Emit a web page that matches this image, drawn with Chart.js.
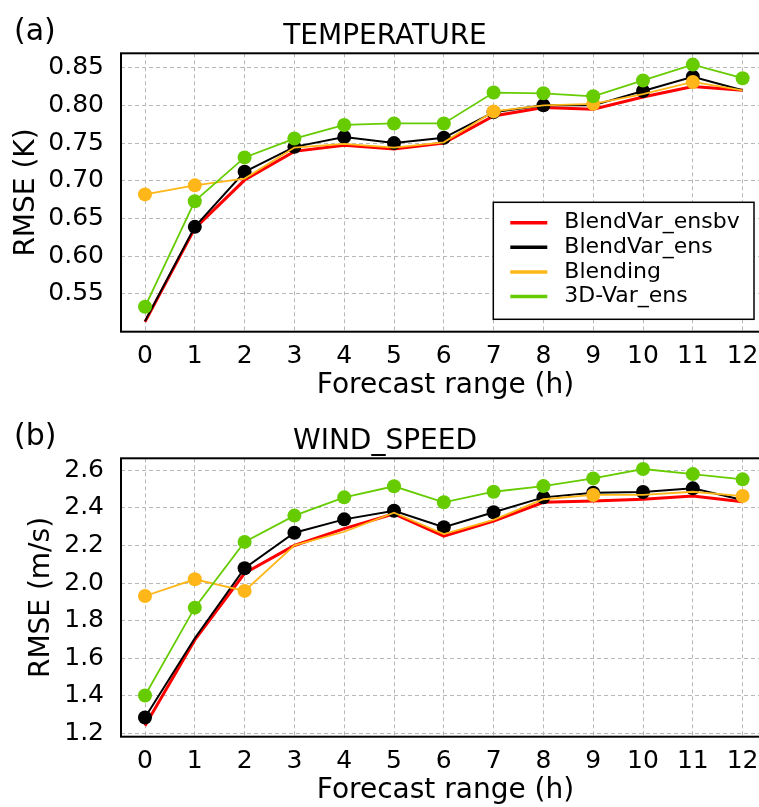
<!DOCTYPE html>
<html>
<head>
<meta charset="utf-8">
<script src="https://cdn.jsdelivr.net/npm/chart.js@4.4.0/dist/chart.umd.min.js"></script>
<style>
  html, body { margin: 0; padding: 0; background: #fff; }
  body { width: 759px; height: 807px; overflow: hidden; position: relative; font-family: 'DejaVu Sans', sans-serif; }
  .panel { position: absolute; left: 0; width: 863px; height: 405px; }
  .tag { position: absolute; left: 14px; top: 15px; font-size: 30px; line-height: 30px; color: #000; }
</style>
</head>
<body>
<div class="panel" style="top:0"><canvas id="tempChart" width="863" height="405"></canvas><div class="tag">(a)</div></div>
<div class="panel" style="top:405px"><canvas id="windChart" width="863" height="405"></canvas><div class="tag">(b)</div></div>
<script>
document.addEventListener('DOMContentLoaded', () => {

// forecast hours
const hours = [0, 1, 2, 3, 4, 5, 6, 7, 8, 9, 10, 11, 12];

const seriesNames = ['BlendVar_ensbv', 'BlendVar_ens', 'Blending', '3D-Var_ens'];

// temperature RMSE (K)
const tempEnsbv    = [0.513, 0.637, 0.701, 0.739, 0.747, 0.742, 0.750, 0.786, 0.797, 0.795, 0.811, 0.825, 0.820];
const tempEns      = [0.514, 0.639, 0.712, 0.745, 0.758, 0.750, 0.757, 0.791, 0.800, 0.800, 0.819, 0.838, 0.820];
const tempBlending = [0.682, 0.694, 0.703, 0.744, 0.749, 0.744, 0.751, 0.792, 0.800, 0.802, 0.815, 0.831, 0.820];
const temp3dvar    = [0.533, 0.673, 0.731, 0.756, 0.774, 0.776, 0.776, 0.817, 0.816, 0.812, 0.833, 0.854, 0.836];

// wind speed RMSE (m/s)
const windEnsbv    = [1.240, 1.697, 2.052, 2.200, 2.290, 2.368, 2.250, 2.330, 2.430, 2.437, 2.446, 2.463, 2.433];
const windEns      = [1.284, 1.706, 2.079, 2.268, 2.339, 2.385, 2.297, 2.377, 2.456, 2.481, 2.485, 2.504, 2.442];
const windBlending = [1.931, 2.020, 1.958, 2.201, 2.273, 2.374, 2.261, 2.336, 2.446, 2.469, 2.469, 2.486, 2.463];
const wind3dvar    = [1.401, 1.869, 2.219, 2.359, 2.456, 2.515, 2.430, 2.486, 2.516, 2.557, 2.607, 2.580, 2.552];

// which hours get a dot (1) on each curve
const tempEnsbvDots    = [0, 0, 0, 0, 0, 0, 0, 0, 0, 0, 0, 0, 0];
const tempEnsDots      = [0, 1, 1, 1, 1, 1, 1, 1, 1, 0, 1, 1, 0];
const tempBlendingDots = [1, 1, 0, 0, 0, 0, 0, 1, 0, 1, 0, 1, 0];
const temp3dvarDots    = [1, 1, 1, 1, 1, 1, 1, 1, 1, 1, 1, 1, 1];

const windEnsbvDots    = [0, 0, 0, 0, 0, 0, 0, 0, 0, 0, 0, 0, 0];
const windEnsDots      = [1, 0, 1, 1, 1, 1, 1, 1, 1, 1, 1, 1, 0];
const windBlendingDots = [1, 1, 1, 0, 0, 0, 0, 0, 0, 1, 0, 0, 1];
const wind3dvarDots    = [1, 1, 1, 1, 1, 1, 1, 1, 1, 1, 1, 1, 1];

const tempTicks = [0.55, 0.60, 0.65, 0.70, 0.75, 0.80, 0.85];
const windTicks = [1.2, 1.4, 1.6, 1.8, 2.0, 2.2, 2.4, 2.6];

const colors = ['#ff0000', '#000000', '#ffb619', '#66cc00'];
const lineWidths = [3, 2, 1.8, 1.8];

Chart.defaults.font.family = "'DejaVu Sans', sans-serif";
Chart.defaults.color = '#000';

// black box round the plot area
const frame = {
    id: 'frame',
    beforeDatasetsDraw(chart) {
        const { ctx, chartArea: a } = chart;
        ctx.save();
        ctx.strokeStyle = '#000';
        ctx.lineWidth = 2;
        ctx.strokeRect(a.left, a.top, a.right - a.left, a.bottom - a.top);
        ctx.restore();
    }
};

// legend drawn as a framed box inside the plot
const boxLegend = {
    id: 'boxLegend',
    afterDraw(chart, args, opts) {
        if (!opts.show) return;
        const { ctx } = chart;
        ctx.save();
        ctx.fillStyle = '#fff';
        ctx.fillRect(opts.x, opts.y, opts.w, opts.h);
        ctx.strokeStyle = '#000';
        ctx.lineWidth = 1.5;
        ctx.strokeRect(opts.x, opts.y, opts.w, opts.h);
        ctx.font = "22px 'DejaVu Sans'";
        ctx.textBaseline = 'middle';
        chart.data.datasets.forEach((ds, i) => {
            const y = opts.y + opts.firstRow + i * opts.rowH;
            ctx.strokeStyle = ds.borderColor;
            ctx.lineWidth = 3.5;
            ctx.beginPath();
            ctx.moveTo(opts.x + 17, y);
            ctx.lineTo(opts.x + 54, y);
            ctx.stroke();
            ctx.fillStyle = '#000';
            ctx.fillText(ds.label, opts.x + 71, y);
        });
        ctx.restore();
    }
};

function buildDatasets(valueLists, dotLists) {
    return valueLists.map((vals, i) => ({
        label: seriesNames[i],
        data: hours.map((h, k) => ({ x: h, y: vals[k] })),
        borderColor: colors[i],
        backgroundColor: colors[i],
        borderWidth: lineWidths[i],
        pointRadius: dotLists[i].map(d => d ? 7 : 0),
        pointBorderWidth: 0,
        pointHoverRadius: 0,
        tension: 0,
        fill: false,
        order: 4 - i
    }));
}

function drawPanel(canvasId, title, yLabel, yMin, yMax, yTicks, decimals, yTitlePad, datasets, withLegend) {
    const ctx = document.getElementById(canvasId).getContext('2d');
    return new Chart(ctx, {
        type: 'line',
        data: { datasets },
        options: {
            responsive: false,
            animation: false,
            devicePixelRatio: 1,
            layout: { padding: { left: 0, right: 93, top: 0, bottom: 2.3 } },
            scales: {
                x: {
                    type: 'linear',
                    min: -0.482,
                    max: 12.55,
                    afterBuildTicks: s => { s.ticks = hours.map(v => ({ value: v })); },
                    afterFit: s => { s.height = 71; },
                    grid: { color: '#b8b8b8', lineWidth: 1, drawTicks: false },
                    border: { display: false, dash: [4, 3] },
                    ticks: { padding: 10, font: { size: 25 }, color: '#000', callback: v => String(v) },
                    title: { display: true, text: 'Forecast range (h)', font: { size: 28 }, padding: { top: 0, bottom: 0 }, color: '#000' }
                },
                y: {
                    type: 'linear',
                    min: yMin,
                    max: yMax,
                    afterBuildTicks: s => { s.ticks = yTicks.map(v => ({ value: v })); },
                    afterFit: s => { s.width = 121; },
                    grid: { color: '#b8b8b8', lineWidth: 1, drawTicks: false },
                    border: { display: false, dash: [4, 3] },
                    ticks: { padding: 17, font: { size: 25 }, color: '#000', callback: v => Number(v).toFixed(decimals) },
                    title: { display: true, text: yLabel, font: { size: 28 }, padding: { top: yTitlePad, bottom: 0 }, color: '#000' }
                }
            },
            plugins: {
                legend: { display: false },
                tooltip: { enabled: false },
                title: {
                    display: true,
                    text: title,
                    font: { size: 28, weight: 'normal' },
                    color: '#000',
                    padding: { top: 19.5, bottom: 0.2 }
                },
                boxLegend: { show: withLegend, x: 493.3, y: 202.3, w: 260.7, h: 117, firstRow: 20.4, rowH: 24.6 }
            }
        },
        plugins: [frame, boxLegend]
    });
}

drawPanel('tempChart', 'TEMPERATURE', 'RMSE (K)', 0.50, 0.869, tempTicks, 2, 9.7,
    buildDatasets([tempEnsbv, tempEns, tempBlending, temp3dvar],
                  [tempEnsbvDots, tempEnsDots, tempBlendingDots, temp3dvarDots]), true);

drawPanel('windChart', 'WIND_SPEED', 'RMSE (m/s)', 1.182, 2.664, windTicks, 1, 24.7,
    buildDatasets([windEnsbv, windEns, windBlending, wind3dvar],
                  [windEnsbvDots, windEnsDots, windBlendingDots, wind3dvarDots]), false);

});
</script>
</body>
</html>
